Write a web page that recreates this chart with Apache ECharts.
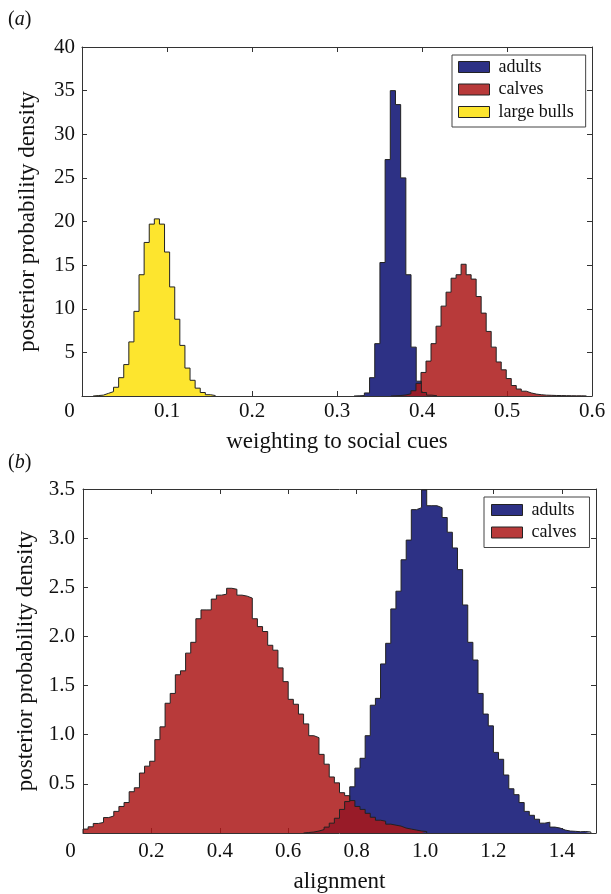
<!DOCTYPE html>
<html><head><meta charset="utf-8">
<script src="https://cdn.jsdelivr.net/npm/echarts@6/dist/echarts.min.js"></script>
<style>html,body{margin:0;padding:0;background:#fff}#c{width:611px;height:894px}</style>
</head><body><div id="c"></div>
<script>
// ---------------- data ----------------
const panelLabels = ['a', 'b'];
const topXName = 'weighting to social cues';
const bottomXName = 'alignment';
const yName = 'posterior probability density';
const topNames = ['adults', 'calves', 'large bulls'];
const bottomNames = ['adults', 'calves'];

const topXRange = [0, 0.6], topXStep = 0.1;
const topYRange = [0, 40], topYStep = 5;
const bottomXRange = [0, 1.5], bottomXStep = 0.2;
const bottomYRange = [0, 3.5], bottomYStep = 0.5;

// histograms: left edge of first bin, bin width, density per bin
const topAdultsStart = 0.3200, topAdultsWidth = 0.0061;
const topAdults = [0.02, 0.05, 0.35, 2.1, 6.0, 15.3, 27.1, 35.0, 33.4, 25.0, 13.9, 5.6, 1.7, 0.4, 0.1, 0.03];

const topCalvesStart = 0.3634, topCalvesWidth = 0.0059;
const topCalves = [0.03, 0.06, 0.12, 0.25, 0.6, 1.45, 2.7, 4.0, 6.0, 8.0, 10.3, 11.9, 13.5, 13.9, 15.1,
  13.9, 13.4, 11.4, 9.5, 7.4, 5.6, 3.9, 3.0, 2.0, 1.2, 0.8, 0.55, 0.35, 0.22, 0.15, 0.1, 0.08, 0.06,
  0.05, 0.04, 0.03, 0.02, 0.02, 0.01];

const topBullsStart = 0.0131, topBullsWidth = 0.0060;
const topBulls = [0.05, 0.1, 0.3, 0.5, 1.0, 2.1, 3.6, 6.2, 9.7, 13.9, 17.6, 19.7, 20.3, 19.7, 16.5,
  12.5, 8.8, 5.8, 3.2, 1.8, 0.9, 0.4, 0.15, 0.05];

const bottomAdultsStart = 0.645, bottomAdultsWidth = 0.015;
const bottomAdults = [0.005, 0.01, 0.02, 0.035, 0.06, 0.10, 0.15, 0.24, 0.32, 0.47, 0.66, 0.76, 0.99,
  1.30, 1.37, 1.72, 1.93, 2.28, 2.46, 2.78, 2.98, 3.29, 3.31, 3.49, 3.33, 3.33, 3.31, 3.21, 3.06, 2.90,
  2.68, 2.32, 1.94, 1.76, 1.42, 1.21, 1.09, 0.82, 0.75, 0.59, 0.45, 0.39, 0.31, 0.22, 0.18, 0.14, 0.10,
  0.11, 0.06, 0.05, 0.03, 0.02, 0.017, 0.013, 0.015, 0.01];

const bottomCalvesStart = 0.0, bottomCalvesWidth = 0.015;
const bottomCalves = [0.04, 0.063, 0.097, 0.107, 0.157, 0.173, 0.22, 0.27, 0.31, 0.42, 0.46, 0.61, 0.68,
  0.73, 0.95, 1.08, 1.32, 1.42, 1.61, 1.65, 1.83, 1.94, 2.18, 2.27, 2.27, 2.38, 2.42, 2.43, 2.49, 2.48,
  2.42, 2.41, 2.39, 2.18, 2.10, 2.05, 1.91, 1.86, 1.68, 1.54, 1.36, 1.31, 1.21, 1.11, 0.99, 0.97, 0.80,
  0.70, 0.57, 0.51, 0.41, 0.38, 0.33, 0.27, 0.24, 0.20, 0.16, 0.13, 0.12, 0.09, 0.08, 0.07, 0.05, 0.04,
  0.03, 0.02, 0.015];

// ---------------- styling ----------------
const FONT = '"Liberation Serif", "Times New Roman", "DejaVu Serif", serif';
const C_BLUE = '#2d3185';
const C_RED = 'rgb(171,23,23)';
const C_RED_LEGEND = '#b83a3a';
const C_YELLOW = '#fde52e';
const EDGE = '#222';
const FRAME = '#333';
const TICK_FS = 21, NAME_FS = 23, LEG_FS = 18;

function hist(start, width, vals) {
  const pts = [[start, 0]];
  vals.forEach((v, i) => pts.push([start + i * width, v]));
  pts.push([start + vals.length * width, 0]);
  return pts;
}

function histSeries(name, xi, yi, start, width, vals, color, opacity) {
  return {
    type: 'line', name, xAxisIndex: xi, yAxisIndex: yi, step: 'end',
    data: hist(start, width, vals), showSymbol: false, symbol: 'none', silent: true,
    color: color, itemStyle: { color: color },
    lineStyle: { color: EDGE, width: 1 },
    areaStyle: { color: color, opacity: opacity }
  };
}

function fmtNum(v, dec) { return v.toFixed(dec); }

function xAxisMain(grid, range, step, name, gap, margin, hideMax) {
  return {
    type: 'value', gridIndex: grid, min: range[0], max: range[1], interval: step, position: 'bottom',
    name: name, nameLocation: 'middle', nameGap: gap,
    nameTextStyle: { fontFamily: FONT, fontSize: NAME_FS, color: '#111' },
    axisLine: { show: true, onZero: false, lineStyle: { color: FRAME, width: 1 } },
    axisTick: { show: true, inside: true, length: 5, lineStyle: { color: FRAME } },
    splitLine: { show: false },
    axisLabel: {
      fontFamily: FONT, fontSize: TICK_FS, color: '#111', margin: margin, showMaxLabel: !hideMax,
      formatter: v => (Math.abs(v) < 1e-9 ? '{z|0}' : fmtNum(v, 1)),
      rich: { z: { fontFamily: FONT, fontSize: TICK_FS, color: '#111', padding: [0, 25, 0, 0] } }
    }
  };
}
function xAxisTop(grid, range, step) {
  return {
    type: 'value', gridIndex: grid, min: range[0], max: range[1], interval: step, position: 'top',
    axisLine: { show: true, onZero: false, lineStyle: { color: FRAME, width: 1 } },
    axisTick: { show: true, inside: true, length: 5, lineStyle: { color: FRAME } },
    splitLine: { show: false }, axisLabel: { show: false }
  };
}
function yAxisMain(grid, range, step, dec, margin) {
  return {
    type: 'value', gridIndex: grid, min: range[0], max: range[1], interval: step, position: 'left',
    name: yName, nameLocation: 'middle', nameRotate: 90, nameGap: 43,
    nameTextStyle: { fontFamily: FONT, fontSize: NAME_FS, color: '#111' },
    axisLine: { show: true, onZero: false, lineStyle: { color: FRAME, width: 1 } },
    axisTick: { show: true, inside: true, length: 5, lineStyle: { color: FRAME } },
    splitLine: { show: false },
    axisLabel: {
      fontFamily: FONT, fontSize: TICK_FS, color: '#111', margin: margin,
      formatter: v => (Math.abs(v) < 1e-9 ? '' : fmtNum(v, dec))
    }
  };
}
function yAxisRight(grid, range, step) {
  return {
    type: 'value', gridIndex: grid, min: range[0], max: range[1], interval: step, position: 'right',
    axisLine: { show: true, onZero: false, lineStyle: { color: FRAME, width: 1 } },
    axisTick: { show: true, inside: true, length: 5, lineStyle: { color: FRAME } },
    splitLine: { show: false }, axisLabel: { show: false }
  };
}

const legendColors = { 'adults': C_BLUE, 'calves': C_RED_LEGEND, 'large bulls': C_YELLOW };
function legend(names, left, top, padding) {
  return {
    orient: 'vertical', left: left, top: top, padding: padding, itemGap: 4.5,
    itemWidth: 31, itemHeight: 11, icon: 'rect', selectedMode: false,
    backgroundColor: '#fff', borderColor: '#444', borderWidth: 1,
    textStyle: { fontFamily: FONT, fontSize: LEG_FS, color: '#111', lineHeight: 18, padding: [0, 0, 0, 4] },
    data: names.map(n => ({ name: n, icon: 'rect', itemStyle: { color: legendColors[n], borderColor: EDGE, borderWidth: 1, opacity: 1 } }))
  };
}

const chart = echarts.init(document.getElementById('c'), null, { renderer: 'canvas' });
chart.setOption({
  animation: false,
  backgroundColor: '#fff',
  title: panelLabels.map((p, i) => ({
    text: '(' + '{i|' + p + '})',
    left: 3, top: i === 0 ? 5 : 448, padding: 5,
    textStyle: { fontFamily: FONT, fontSize: 20, fontWeight: 'normal', color: '#111',
      rich: { i: { fontFamily: FONT, fontSize: 20, fontStyle: 'italic', color: '#111' } } }
  })),
  grid: [
    { left: 82, top: 47, width: 510, height: 349 },
    { left: 83, top: 489, width: 513, height: 350 }
  ],
  xAxis: [
    xAxisMain(0, topXRange, topXStep, topXName, 34, 5, false),
    xAxisTop(0, topXRange, topXStep),
    xAxisMain(1, bottomXRange, bottomXStep, bottomXName, 37, 8, true),
    xAxisTop(1, bottomXRange, bottomXStep)
  ],
  yAxis: [
    yAxisMain(0, topYRange, topYStep, 0, 7),
    yAxisRight(0, topYRange, topYStep),
    yAxisMain(1, bottomYRange, bottomYStep, 1, 8),
    yAxisRight(1, bottomYRange, bottomYStep)
  ],
  legend: [
    legend(topNames, 452, 55, [3, 12, 6, 6]),
    legend(bottomNames, 484, 497, [4, 13, 6, 7])
  ],
  series: [
    histSeries(topNames[0], 0, 0, topAdultsStart, topAdultsWidth, topAdults, C_BLUE, 1),
    histSeries(topNames[1], 0, 0, topCalvesStart, topCalvesWidth, topCalves, C_RED, 0.85),
    histSeries(topNames[2], 0, 0, topBullsStart, topBullsWidth, topBulls, C_YELLOW, 1),
    histSeries(bottomNames[0], 2, 2, bottomAdultsStart, bottomAdultsWidth, bottomAdults, C_BLUE, 1),
    histSeries(bottomNames[1], 2, 2, bottomCalvesStart, bottomCalvesWidth, bottomCalves, C_RED, 0.85)
  ]
});
</script>
</body></html>
